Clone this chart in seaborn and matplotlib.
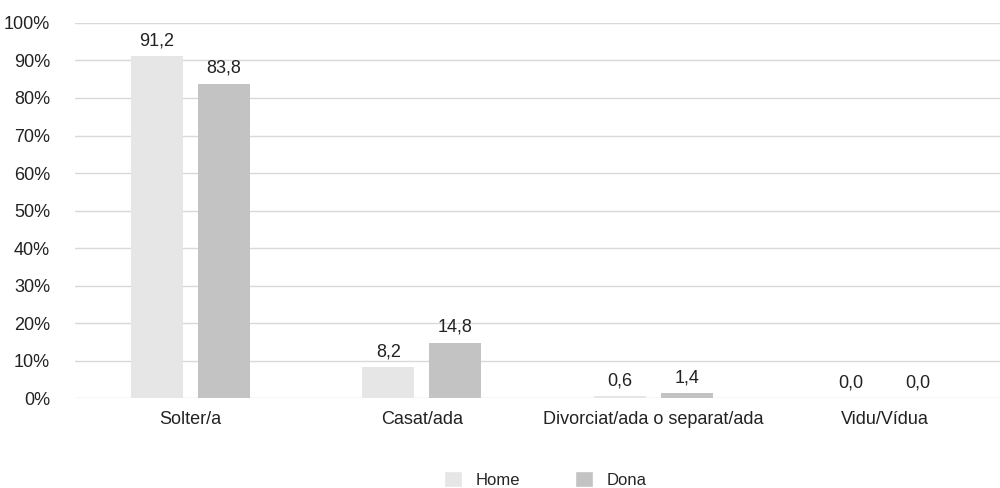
import numpy as np
import pandas as pd
import seaborn as sns
import matplotlib.pyplot as plt
from matplotlib.patches import Patch

categories = ['Solter/a', 'Casat/ada', 'Divorciat/ada o separat/ada', 'Vidu/Vídua']
home = [91.2, 8.2, 0.6, 0.0]
dona = [83.8, 14.8, 1.4, 0.0]
series = ['Home', 'Dona']
colors = ['#e6e6e6', '#c3c3c3']

df = pd.DataFrame({
    'cat': categories * 2,
    'sexe': ['Home'] * 4 + ['Dona'] * 4,
    'val': home + dona,
})

sns.set_style('white')
plt.rcParams['font.family'] = ['Liberation Sans', 'DejaVu Sans']

fig = plt.figure(figsize=(10, 4.88), dpi=100)
ax = fig.add_axes([0.075, 0.184, 0.925, 0.769])

sns.barplot(
    ax=ax,
    data=df,
    x='cat',
    y='val',
    hue='sexe',
    hue_order=series,
    palette=colors,
    width=0.58,
    gap=0.224,
    linewidth=0,
    legend=False,
    zorder=3,
)

for cont in ax.containers:
    ax.bar_label(cont, labels=[f'{v:.1f}'.replace('.', ',') for v in cont.datavalues],
                 padding=5, fontsize=13, color='#222222')

ax.set_ylim(0, 100)
ax.set_xlim(-0.5, 3.5)
ax.set_yticks(np.arange(0, 101, 10))
ax.set_yticklabels([f'{t}%' for t in range(0, 101, 10)])
ax.yaxis.grid(True, color='#d9d9d9', linewidth=1)
ax.set_axisbelow(True)
for s in ax.spines.values():
    s.set_visible(False)
ax.tick_params(axis='both', length=0, labelsize=13, colors='#222222')
ax.tick_params(axis='x', pad=9)
ax.tick_params(axis='y', pad=18)
ax.set_xlabel('')
ax.set_ylabel('')

handles = [Patch(facecolor=c, label=l) for c, l in zip(colors, series)]
fig.legend(handles=handles, loc='center', bbox_to_anchor=(0.545, 0.018), ncol=2,
           frameon=False, fontsize=12, handlelength=1.1, handleheight=1.1,
           columnspacing=3.3, handletextpad=0.8)

fig.savefig('out.png', dpi=100)
